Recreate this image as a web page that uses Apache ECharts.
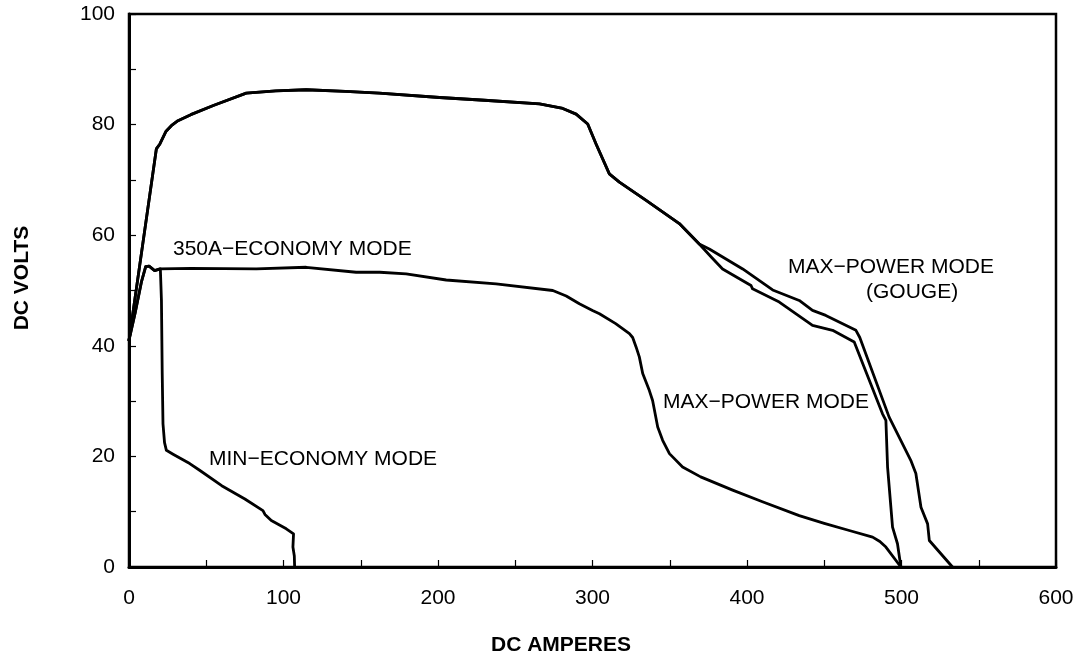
<!DOCTYPE html>
<html>
<head>
<meta charset="utf-8">
<script src="https://cdn.jsdelivr.net/npm/echarts@6/dist/echarts.min.js"></script>
<style>html,body{margin:0;padding:0;background:#fff;}#c{width:1084px;height:658px;}</style>
</head>
<body>
<div id="c"></div>
<script>
// ---- data (DC amperes, DC volts) ----
var xTicks = [0, 100, 200, 300, 400, 500, 600];
var yTicks = [0, 20, 40, 60, 80, 100];

var gougeCurve = [[0,41],[17.7,75.6],[20,76.5],[24,78.8],[27.4,79.8],[31.7,80.7],[40,81.8],[55,83.5],[75.9,85.7],[95,86.1],[114.7,86.3],[140,86],[162,85.7],[201,84.9],[230,84.4],[265.7,83.75],[280,83],[289.4,81.9],[296.9,80.1],[302.3,76.5],[310.9,71.1],[317.4,69.6],[334.7,66.3],[356.2,62.1],[369.1,58.4],[375.6,57.5],[397.2,53.9],[416.6,50.1],[433.8,48.2],[442.4,46.4],[451,45.5],[470.5,42.8],[473,41.5],[492,27.1],[506,19.3],[509.3,16.9],[512.6,10.8],[516.9,7.8],[518,4.8],[533,0]];

var maxPowerUpperCurve = [[0,41],[17.7,75.6],[20,76.5],[24,78.8],[27.4,79.8],[31.7,80.7],[40,81.8],[55,83.5],[75.9,85.7],[95,86.1],[114.7,86.3],[140,86],[162,85.7],[201,84.9],[230,84.4],[265.7,83.75],[280,83],[289.4,81.9],[296.9,80.1],[302.3,76.5],[310.9,71.1],[317.4,69.6],[334.7,66.3],[356.2,62.1],[369.1,58.4],[377,56],[384.2,53.9],[402.6,50.9],[403.6,50.3],[420.9,47.9],[442.4,43.7],[455.4,42.8],[469.4,40.7],[470.5,40.4],[487.7,27.7],[489.9,26.5],[491,18],[494.2,7.2],[497.4,4.2],[499.6,0]];

var maxPowerCurve = [[0,41],[4,46],[8,51.5],[10.8,54.3],[13,54.4],[16.6,53.6],[20,53.9],[40,54],[82.4,53.9],[114.7,54.2],[147,53.3],[162.3,53.3],[179.4,53],[205.3,51.9],[237.6,51.2],[274.3,50],[283,49],[291.5,47.6],[300,46.4],[304.5,45.8],[315,44],[323.9,42.2],[326,41.5],[328.2,39.8],[330.3,38],[332.5,35],[336.8,31.9],[338.9,30.1],[342.2,25.3],[345.4,22.9],[349.8,20.5],[358.3,18.1],[370,16.3],[390.7,13.9],[410,11.8],[433.8,9.3],[450,7.9],[466.2,6.6],[481.3,5.4],[486,4.6],[489.9,3.6],[499.6,0]];

var minEconomyCurve = [[0,41],[4,46],[8,51.5],[10.8,54.3],[13,54.4],[16.6,53.6],[20.3,53.9],[21,48.2],[21.5,35],[22,25.9],[23,22.5],[24.2,21.1],[28.5,20.4],[39.3,18.7],[45.7,17.5],[60,14.7],[75,12.3],[86.7,10.2],[88,9.5],[92.1,8.4],[101.8,6.9],[106.5,6.0],[106.1,3.6],[107,2],[107.2,0]];

var curveLabels = ['350A\u2212ECONOMY MODE', 'MIN\u2212ECONOMY MODE', 'MAX\u2212POWER MODE', 'MAX\u2212POWER MODE', '(GOUGE)'];
var xTitle = 'DC AMPERES';
var yTitle = 'DC VOLTS';

// ---- chart ----
var FONT = 'Liberation Sans, Arial, Helvetica, sans-serif';
var FS = 21;
var chart = echarts.init(document.getElementById('c'), null, {renderer: 'canvas'});

function lineSeries(name, data) {
  return {
    name: name, type: 'line', data: data, showSymbol: false, symbol: 'none',
    smooth: false, animation: false,
    lineStyle: {color: '#000', width: 2.8, join: 'round', cap: 'round'}
  };
}

function txt(text, x, y, bold, align) {
  return {
    type: 'text', x: x, y: y, silent: true,
    style: {text: text, fill: '#000', font: (bold ? 'bold ' : '') + FS + 'px ' + FONT,
            textAlign: align || 'left', textVerticalAlign: 'middle'}
  };
}

var yTitleEl = txt(yTitle, 22, 278, true, 'center');
yTitleEl.rotation = Math.PI / 2;

chart.setOption({
  animation: false,
  backgroundColor: '#fff',
  grid: {left: 129, right: 28, top: 14, bottom: 91, show: true, borderColor: '#000', borderWidth: 2.5,
         containLabel: false, outerBoundsMode: 'none'},
  xAxis: {
    type: 'value', min: 0, max: 600, interval: 50,
    splitLine: {show: false},
    axisLine: {show: true, lineStyle: {color: '#000', width: 3}},
    axisTick: {show: true, inside: true, length: 7, lineStyle: {color: '#000', width: 1.2}},
    axisLabel: {margin: 21, color: '#000', fontSize: FS, fontFamily: FONT,
      formatter: function (v) { return xTicks.indexOf(v) >= 0 ? String(v) : ''; }}
  },
  yAxis: {
    type: 'value', min: 0, max: 100, interval: 10,
    splitLine: {show: false},
    axisLine: {show: true, lineStyle: {color: '#000', width: 3}},
    axisTick: {show: true, inside: true, length: 7, lineStyle: {color: '#000', width: 1.2}},
    axisLabel: {margin: 14, color: '#000', fontSize: FS, fontFamily: FONT,
      formatter: function (v) { return yTicks.indexOf(v) >= 0 ? String(v) : ''; }}
  },
  series: [
    lineSeries('gouge', gougeCurve),
    lineSeries('maxUpper', maxPowerUpperCurve),
    lineSeries('maxPower', maxPowerCurve),
    lineSeries('minEconomy', minEconomyCurve)
  ],
  graphic: [
    txt(curveLabels[0], 173, 249),
    txt(curveLabels[1], 209, 459),
    txt(curveLabels[2], 663, 402.5),
    txt(curveLabels[3], 788, 267.5),
    txt(curveLabels[4], 866, 292),
    txt(xTitle, 561, 645.5, true, 'center'),
    yTitleEl
  ]
});
</script>
</body>
</html>
